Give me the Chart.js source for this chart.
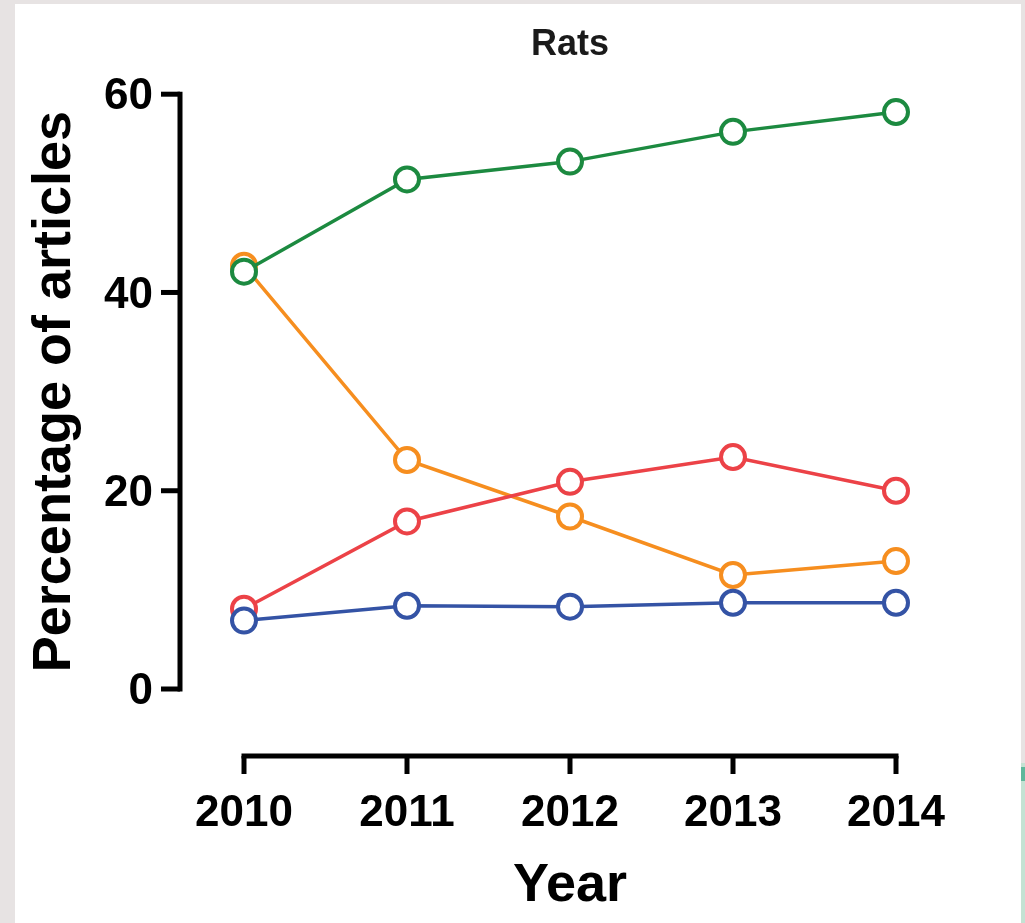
<!DOCTYPE html>
<html>
<head>
<meta charset="utf-8">
<title>Rats</title>
<script src="https://cdn.jsdelivr.net/npm/chart.js@4.4.1/dist/chart.umd.min.js"></script>
<style>
  html, body { margin: 0; padding: 0; }
  body { width: 1025px; height: 923px; background: #e7e3e3; position: relative; overflow: hidden; }
  #panel { position: absolute; left: 15px; top: 4px; width: 1006px; height: 919px; background: #ffffff; }
  #edge { position: absolute; left: 1021px; top: 763px; width: 4px; height: 160px; background: #c4e2d3; }
  #edgeMark { position: absolute; left: 1021px; top: 767px; width: 4px; height: 14px; background: #5fb79b; }
  canvas { display: block; }
</style>
</head>
<body>
<div id="panel"><canvas id="chart" width="1006" height="919"></canvas></div>
<div id="edge"></div>
<div id="edgeMark"></div>
<script>
// Years on the x axis
const years = ['2010', '2011', '2012', '2013', '2014'];

// Percentage of articles per year, one array per series
const greenSeries  = [42.1, 51.4, 53.2, 56.2, 58.2];
const orangeSeries = [42.7, 23.1, 17.4, 11.5, 12.9];
const redSeries    = [8.1, 16.9, 20.9, 23.4, 20.0];
const blueSeries   = [6.9, 8.4, 8.3, 8.7, 8.7];

// Y axis range and tick spacing
const yMin = 0;
const yMax = 60;
const yStep = 20;

const FONT = '"Liberation Sans", Arial, Helvetica, sans-serif';

function series(values, color) {
  return {
    data: values,
    borderColor: color,
    backgroundColor: color,
    borderWidth: 3.5,
    pointRadius: 12,
    pointHoverRadius: 12,
    pointBorderWidth: 4,
    pointBackgroundColor: '#ffffff',
    pointBorderColor: color,
    tension: 0,
    clip: false
  };
}

// Axis lines drawn detached from the plot area, spanning only the data range
const detachedAxes = {
  id: 'detachedAxes',
  beforeDatasetsDraw(chart) {
    const { ctx, chartArea, scales } = chart;
    const ys = scales.y, xs = scales.x;
    const lw = 5;
    ctx.save();
    ctx.strokeStyle = '#000000';
    ctx.lineWidth = lw;
    ctx.lineCap = 'butt';

    // vertical axis
    const ax = chartArea.left - 64;
    const yTop = ys.getPixelForValue(yMax);
    const yBot = ys.getPixelForValue(yMin);
    ctx.beginPath();
    ctx.moveTo(ax, yTop - lw / 2);
    ctx.lineTo(ax, yBot + lw / 2);
    ctx.stroke();
    ys.ticks.forEach(t => {
      const py = ys.getPixelForValue(t.value);
      ctx.beginPath();
      ctx.moveTo(ax - 19, py);
      ctx.lineTo(ax, py);
      ctx.stroke();
    });

    // horizontal axis
    const ay = chartArea.bottom + 67;
    const xFirst = xs.getPixelForValue(0);
    const xLast = xs.getPixelForValue(years.length - 1);
    ctx.beginPath();
    ctx.moveTo(xFirst - lw / 2, ay);
    ctx.lineTo(xLast + lw / 2, ay);
    ctx.stroke();
    years.forEach((_, i) => {
      const px = xs.getPixelForValue(i);
      ctx.beginPath();
      ctx.moveTo(px, ay);
      ctx.lineTo(px, ay + 18);
      ctx.stroke();
    });
    ctx.restore();
  }
};

new Chart(document.getElementById('chart'), {
  type: 'line',
  data: {
    labels: years,
    // first dataset is painted last (on top)
    datasets: [
      series(greenSeries, '#1c8a40'),
      series(blueSeries, '#3453a5'),
      series(redSeries, '#ec4247'),
      series(orangeSeries, '#f68e1f')
    ]
  },
  options: {
    responsive: false,
    devicePixelRatio: 1,
    animation: false,
    layout: { padding: { left: 0, right: 125, top: 0, bottom: 0 } },
    plugins: {
      legend: { display: false },
      tooltip: { enabled: false },
      title: {
        display: true,
        text: 'Rats',
        fullSize: false,
        color: '#1a1a1a',
        font: { family: FONT, size: 36, weight: 'bold', lineHeight: 1.2 },
        padding: { top: 19, bottom: 28 }
      }
    },
    scales: {
      x: {
        type: 'category',
        offset: false,
        grid: { display: false, drawTicks: false },
        border: { display: false },
        ticks: {
          color: '#000000',
          padding: 98,
          maxRotation: 0,
          autoSkip: false,
          font: { family: FONT, size: 44, weight: 'bold', lineHeight: 1.2 }
        },
        title: {
          display: true,
          text: 'Year',
          color: '#000000',
          font: { family: FONT, size: 54, weight: 'bold', lineHeight: 1.2 },
          padding: { top: 0, bottom: 4 }
        },
        afterFit(scale) {
          scale.height = 234;
          scale.paddingLeft = 0;
          scale.paddingRight = 0;
        }
      },
      y: {
        min: yMin,
        max: yMax,
        grid: { display: false, drawTicks: false },
        border: { display: false },
        ticks: {
          stepSize: yStep,
          color: '#000000',
          padding: 91,
          labelOffset: 3,
          font: { family: FONT, size: 44, weight: 'bold', lineHeight: 1.2 }
        },
        title: {
          display: true,
          text: 'Percentage of articles',
          color: '#000000',
          font: { family: FONT, size: 54, weight: 'bold', lineHeight: 1.2 },
          padding: { top: 8, bottom: 0 }
        },
        afterFit(scale) {
          scale.width = 229;
          scale.paddingTop = 0;
          scale.paddingBottom = 0;
        }
      }
    }
  },
  plugins: [detachedAxes]
});
</script>
</body>
</html>
